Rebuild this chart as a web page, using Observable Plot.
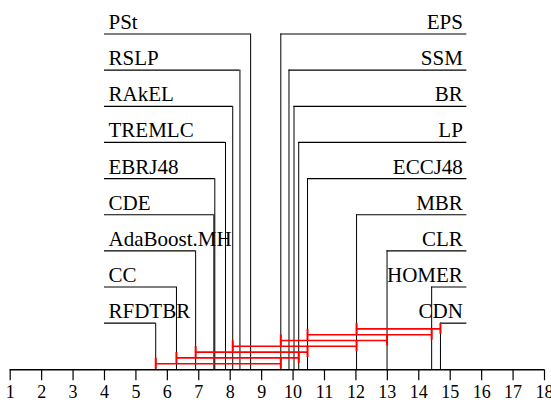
<!DOCTYPE html>
<html>
<head>
<meta charset="utf-8">
<script src="https://cdn.jsdelivr.net/npm/d3@7"></script>
<script src="https://cdn.jsdelivr.net/npm/@observablehq/plot@0.6"></script>
<style>
  html, body { margin: 0; padding: 0; background: #fff; }
</style>
</head>
<body>
<div id="chart"></div>
<script>
// Methods (sorted by average rank) and their average ranks
const methods = ["RFDTBR","CC","AdaBoost.MH","CDE","EBRJ48","TREMLC","RAkEL","RSLP","PSt",
                 "EPS","SSM","BR","LP","ECCJ48","MBR","CLR","HOMER","CDN"];
const ranks = [5.63, 6.29, 6.90, 7.48, 7.51, 7.85, 8.08, 8.31, 8.65,
               9.61, 9.87, 10.03, 10.18, 10.46, 12.02, 12.99, 14.41, 14.69];
// Cliques of methods not significantly different (from, to)
const cliqueFrom = ["RFDTBR","CC","AdaBoost.MH","RAkEL","EPS","ECCJ48","MBR"];
const cliqueTo   = ["EPS","LP","ECCJ48","MBR","CLR","HOMER","CDN"];
// Axis tick labels
const tickValues = [1,2,3,4,5,6,7,8,9,10,11,12,13,14,15,16,17,18];

const rankOf = Object.fromEntries(methods.map((m, i) => [m, ranks[i]]));
const half = methods.length / 2;
const rows = methods.map((m, i) => {
  const left = i < half;
  return {name: m, rank: ranks[i], left, row: left ? half - 1 - i : i - half};
});
const axisY = 9.29;
const tickLen = 0.304;
const labelLeft = 4, labelRight = 15.53;
const cliques = cliqueFrom.map((f, k) => ({
  x1: rankOf[f], x2: rankOf[cliqueTo[k]], y: axisY - 0.169 - k * 0.1605
}));
const tickH = 0.152;
const FONT = "Liberation Serif";

const chart = Plot.plot({
  width: 551,
  height: 404,
  marginLeft: 9.7,
  marginRight: 7,
  marginTop: 0,
  marginBottom: 0,
  style: "font-family: 'Liberation Serif', serif;",
  x: {domain: [1, 18], range: [9.7, 544], axis: null},
  y: {domain: [0, axisY], range: [33.5, 369.3], axis: null},
  marks: [
    // horizontal label lines
    Plot.ruleY(rows, {y: "row", x1: d => d.left ? labelLeft : d.rank, x2: d => d.left ? d.rank : labelRight,
      stroke: "#000", strokeWidth: 1.2}),
    // vertical lines to axis
    Plot.ruleX(rows, {x: "rank", y1: "row", y2: axisY, stroke: "#000", strokeWidth: 1}),
    // labels
    Plot.text(rows.filter(d => d.left), {x: labelLeft, y: "row", text: "name", textAnchor: "start",
      lineAnchor: "bottom", dx: 4, dy: -5, fontSize: 21, fontFamily: FONT}),
    Plot.text(rows.filter(d => !d.left), {x: labelRight, y: "row", text: "name", textAnchor: "end",
      lineAnchor: "bottom", dx: -4, dy: -5, fontSize: 21, fontFamily: FONT}),
    // cliques
    Plot.ruleY(cliques, {y: "y", x1: "x1", x2: "x2", stroke: "#ff0000", strokeWidth: 1.6}),
    Plot.ruleX(cliques, {x: "x1", y1: d => d.y - tickH, y2: d => d.y + tickH, stroke: "#ff0000", strokeWidth: 2}),
    Plot.ruleX(cliques, {x: "x2", y1: d => d.y - tickH, y2: d => d.y + tickH, stroke: "#ff0000", strokeWidth: 2}),
    // axis line, ticks and tick labels
    Plot.ruleY([axisY], {x1: 1, x2: 18, stroke: "#000", strokeWidth: 1.5}),
    Plot.ruleX(tickValues, {x: d => d, y1: axisY, y2: axisY + tickLen, stroke: "#000", strokeWidth: 1.2}),
    Plot.text(tickValues, {x: d => d, y: axisY + tickLen, text: d => String(d), lineAnchor: "top", dy: 4,
      fontSize: 18, fontFamily: FONT})
  ]
});
document.getElementById("chart").appendChild(chart);
</script>
</body>
</html>
